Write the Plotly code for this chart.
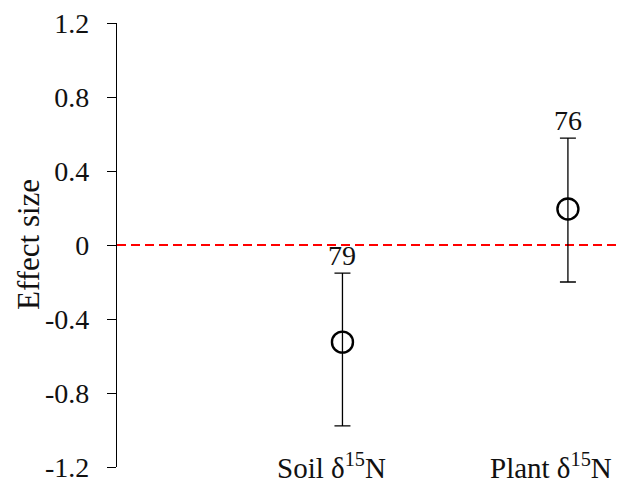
import plotly.graph_objects as go

categories = ["Soil δ<sup>15</sup>N", "Plant δ<sup>15</sup>N"]
positions = [1, 2]
effect = [-0.525, 0.195]
ci_upper = [-0.152, 0.578]
ci_lower = [-0.978, -0.200]
counts = ["79", "76"]
y_ticks = [-1.2, -0.8, -0.4, 0, 0.4, 0.8, 1.2]
y_ticktext = ["-1.2", "-0.8", "-0.4", "0", "0.4", "0.8", "1.2"]

FONT = "Liberation Serif, Times New Roman, serif"
TXT = "#111111"

fig = go.Figure()
fig.add_trace(go.Scatter(
    x=positions, y=effect, mode="markers",
    marker=dict(symbol="circle-open", size=21, color="black", line=dict(width=2.4, color="black")),
    error_y=dict(type="data", symmetric=False,
                 array=[u - e for u, e in zip(ci_upper, effect)],
                 arrayminus=[e - l for e, l in zip(effect, ci_lower)],
                 color="black", thickness=1.3, width=8),
    showlegend=False,
))

fig.add_shape(type="line", xref="paper", x0=0, x1=1, yref="y", y0=0, y1=0,
              line=dict(color="#ff0000", width=2, dash="9px,5px"), layer="below")

annotations = []
for p, u, c in zip(positions, ci_upper, counts):
    annotations.append(dict(x=p, y=u, xref="x", yref="y", text=c, showarrow=False,
                            xanchor="center", yanchor="bottom", yshift=0,
                            font=dict(family=FONT, size=28, color=TXT)))
for p, c in zip(positions, categories):
    annotations.append(dict(x=p, y=-1.2, xref="x", yref="y", text=c, showarrow=False,
                            xanchor="right", yanchor="middle", xshift=46, yshift=1,
                            font=dict(family=FONT, size=29, color=TXT)))
annotations.append(dict(x=0, y=0, xref="paper", yref="y", text="Effect size", showarrow=False,
                        textangle=-90, xanchor="center", yanchor="middle", xshift=-89,
                        font=dict(family=FONT, size=31, color=TXT)))

fig.update_layout(
    width=620, height=489,
    margin=dict(l=117, r=0, t=23, b=22, pad=0),
    paper_bgcolor="white", plot_bgcolor="white",
    annotations=annotations,
    xaxis=dict(range=[0, 2.231], showgrid=False, zeroline=False, showline=False,
               showticklabels=False, ticks=""),
    yaxis=dict(range=[-1.2, 1.2], tickvals=y_ticks, ticktext=y_ticktext,
               showgrid=False, zeroline=False, showline=True, linecolor="black", linewidth=1.3,
               ticks="outside", ticklen=9, tickwidth=1.3, tickcolor="black",
               ticklabelstandoff=12,
               tickfont=dict(family=FONT, size=28, color=TXT)),
)

fig.write_html("out.html")
